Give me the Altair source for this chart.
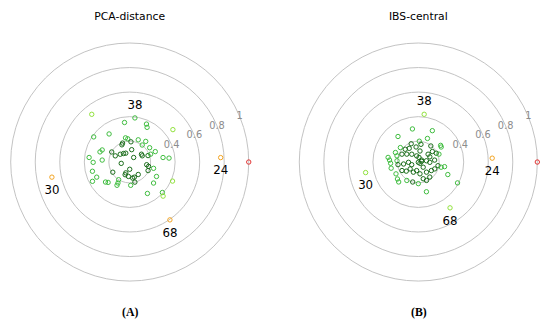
import altair as alt
import pandas as pd

R0 = 0.03  # origin of the radial axis

# ---------- rings / radial tick labels ----------
ring_values = [0.2, 0.4, 0.6, 0.8, 1.0]
ring_label_values = [0.4, 0.6, 0.8, 1.0]
ring_label_texts = ["0.4", "0.6", "0.8", "1"]

# ---------- PCA-distance (A) ----------
pca_r = [0.527, 0.355, 0.368, 0.346, 0.47, 0.314, 0.388, 0.23, 0.22, 0.224,
         0.243, 0.195, 0.184, 0.195, 0.202, 0.23, 0.275, 0.286, 0.132, 0.255,
         0.198, 0.13, 0.116, 0.109, 0.145, 0.188, 0.212, 0.158, 0.363, 0.255,
         0.079, 0.144, 0.304, 0.352, 0.328, 0.10, 0.17, 0.188, 0.231, 0.343,
         0.089, 0.195, 0.191, 0.124, 0.153, 0.14, 0.148, 0.159, 0.278, 0.326,
         0.2, 0.163, 0.372, 0.286, 0.272, 0.226, 0.199, 0.289, 0.412, 0.22,
         0.246, 0.324, 0.394, 0.419]
pca_theta = [128.5, 97.5, 66.2, 63.4, 36.9, 126.3, 145.1, 99.9, 94.8, 69.0,
             52.2, 86.5, 114.4, 110.7, 53.7, 35.7, 156.3, 161.2, 81.0, 22.2,
             150.8, 140.5, 126.2, 114.0, 33.7, 19.4, 20.6, 156.8, 173.6, 175.9,
             49.0, 26.4, 7.7, 5.7, 180.5, 189.0, 351.0, 347.0, 345.2, 193.9,
             270.0, 335.0, 211.0, 250.0, 304.4, 250.1, 265.0, 287.0, 331.7, 204.6,
             237.9, 280.4, 207.4, 219.6, 223.3, 240.7, 284.4, 318.6, 336.0, 272.4,
             241.3, 299.4, 317.0, 314.4]
pca_named = ["", "24", "30", "68", "38"]
pca_named_r = [1.0, 0.772, 0.676, 0.604, 0.392]
pca_named_theta = [0.0, 2.8, 191.0, 304.8, 83.3]

# ---------- IBS-central (B) ----------
ibs_r = [0.304, 0.31, 0.296, 0.236, 0.257, 0.253, 0.279, 0.265, 0.256, 0.257,
         0.236, 0.249, 0.258, 0.247, 0.291, 0.392, 0.281,
         0.19, 0.2, 0.218, 0.179, 0.164, 0.154, 0.176, 0.121, 0.196, 0.173,
         0.193, 0.232, 0.211, 0.178, 0.144, 0.113, 0.082, 0.068, 0.061, 0.132,
         0.133, 0.21, 0.204, 0.197, 0.151, 0.11, 0.088, 0.032, 0.047, 0.057,
         0.097, 0.124, 0.164, 0.193, 0.221, 0.18, 0.153, 0.117, 0.122, 0.101,
         0.127, 0.088, 0.136, 0.157, 0.175, 0.207, 0.199, 0.206, 0.172, 0.194,
         0.184]
ibs_theta = [100.1, 65.9, 128.5, 68.8, 36.8, 33.3, 171.3, 176.1, 182.6, 192.8,
             207.9, 219.1, 225.4, 350.0, 337.0, 332.0, 285.3,
             111.3, 87.3, 141.2, 135.7, 123.6, 98.5, 81.5, 81.4, 52.1, 36.8,
             26.2, 157.4, 163.8, 154.4, 145.6, 129.9, 105.0, 81.5, 31.2, 38.7,
             24.4, 20.9, 176.6, 187.4, 187.6, 181.7, 202.0, 270.0, 322.6, 12.0,
             8.9, 358.5, 6.8, 349.5, 347.2, 207.5, 217.1, 220.1, 244.1, 259.0,
             278.0, 313.3, 308.9, 326.8, 337.3, 238.0, 254.3, 270.0, 286.4, 294.0,
             307.4]
ibs_named = ["", "24", "30", "68", "38"]
ibs_named_r = [1.0, 0.633, 0.468, 0.484, 0.422]
ibs_named_theta = [0.0, 3.0, 191.3, 304.7, 83.0]

# colour by distance
color_breaks = [0.2, 0.4, 0.56, 0.95]
color_range = ["#176a17", "#3cbb3c", "#8fe03a", "#f2a21f", "#e0302f"]

HALF = 0.976  # half extent of the square plot in radial units
PANEL = 244


def xy(chart, r="r", t="theta"):
    return chart.transform_calculate(
        px=f"(datum.{r} - {R0}) * cos(datum.{t} * PI / 180)",
        py=f"(datum.{r} - {R0}) * sin(datum.{t} * PI / 180)",
    )


def enc_x(letter):
    return alt.X("px:Q", scale=alt.Scale(domain=[-HALF, HALF], nice=False, zero=False,
                                         padding=0),
                 axis=alt.Axis(title=letter, grid=False, labels=False, ticks=False,
                               domain=False, titleFont="Liberation Serif",
                               titleFontSize=12, titleFontWeight="bold",
                               titleColor="black", titlePadding=25))


def enc_y():
    return alt.Y("py:Q", scale=alt.Scale(domain=[-HALF, HALF], nice=False, zero=False,
                                         padding=0),
                 axis=None)


def panel(title, letter, r, theta, named, named_r, named_theta):
    pts = pd.DataFrame({"r": r + named_r, "theta": theta + named_theta})
    labs = pd.DataFrame({"r": named_r, "theta": named_theta, "label": named})
    labs = labs[labs["label"] != ""]
    rings = pd.DataFrame({"r": ring_values})
    rlab = pd.DataFrame({"r": ring_label_values, "text": ring_label_texts,
                         "theta": [22.5] * len(ring_label_values)})

    # rings: circles centred on the origin whose diameter follows the radius
    ring_layer = alt.Chart(rings).transform_calculate(
        px="0", py="0", ro=f"datum.r - {R0}"
    ).mark_point(
        shape="circle", filled=False, color="#c2c2c2", strokeWidth=1, opacity=1
    ).encode(
        x=enc_x(letter), y=enc_y(),
        size=alt.Size("ro:Q", scale=alt.Scale(type="pow", exponent=2, domain=[0, 1],
                                              range=[0, 62500]), legend=None),
    )

    rlab_layer = xy(alt.Chart(rlab)).mark_text(
        font="DejaVu Sans", fontSize=10, color="#8c8c8c", align="center", baseline="middle"
    ).encode(x=enc_x(letter), y=enc_y(), text="text:N")

    pt_layer = xy(alt.Chart(pts)).mark_point(
        shape="circle", filled=False, size=20, strokeWidth=1, opacity=1
    ).encode(
        x=enc_x(letter), y=enc_y(),
        color=alt.Color("r:Q", scale=alt.Scale(type="threshold", domain=color_breaks,
                                               range=color_range), legend=None),
    )

    above = xy(alt.Chart(labs)).transform_filter(
        alt.FieldOneOfPredicate(field="label", oneOf=["38"])
    ).mark_text(font="DejaVu Sans", fontSize=12, color="black", dy=-13).encode(
        x=enc_x(letter), y=enc_y(), text="label:N")
    below = xy(alt.Chart(labs)).transform_filter(
        "datum.label != '38'"
    ).mark_text(font="DejaVu Sans", fontSize=12, color="black", dy=13).encode(
        x=enc_x(letter), y=enc_y(), text="label:N")

    return alt.layer(ring_layer, rlab_layer, pt_layer, above, below).resolve_scale(
        size="independent"
    ).properties(
        width=PANEL, height=PANEL,
        title=alt.TitleParams(title, font="DejaVu Sans", fontSize=11, fontWeight="normal",
                              color="black", anchor="middle", offset=19),
    )


left = panel("PCA-distance", "(A)", pca_r, pca_theta, pca_named, pca_named_r, pca_named_theta)
right = panel("IBS-central", "(B)", ibs_r, ibs_theta, ibs_named, ibs_named_r, ibs_named_theta)

chart = alt.hconcat(left, right, spacing=44).properties(
    padding={"left": 0, "top": 0, "right": 0, "bottom": 0}
).configure_view(strokeWidth=0)

chart.save("out.html", embed_options={"renderer": "svg", "actions": False})
